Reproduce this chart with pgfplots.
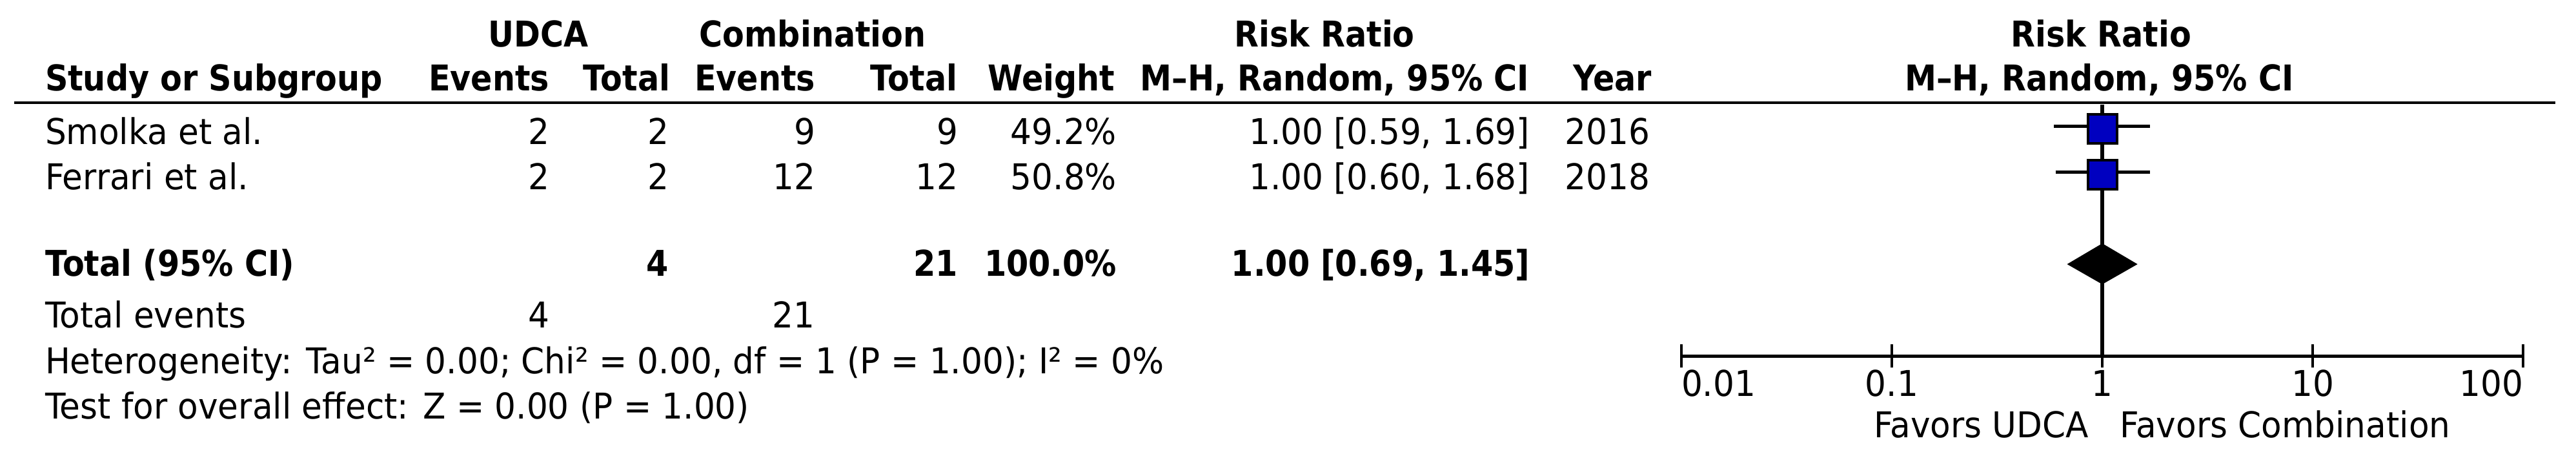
\documentclass[border=0pt]{standalone}
\usepackage{pgfplots}
\pgfplotsset{compat=1.18}
\usepackage{fontspec}
\setmainfont{DejaVu Sans}[FakeStretch=0.94, BoldFeatures={FakeStretch=0.895}]
\definecolor{sqblue}{RGB}{0,0,192}

% positions are given in pixels of the 3991 x 705 reference (1 px = 0.1pt)
\newcommand{\Lt}[3]{\node[anchor=base west,inner sep=0pt] at ({#1*0.1pt},{-#2*0.1pt}) {#3};}
\newcommand{\Rt}[3]{\node[anchor=base east,inner sep=0pt] at ({#1*0.1pt},{-#2*0.1pt}) {#3};}
\newcommand{\Ct}[3]{\node[anchor=base,inner sep=0pt] at ({#1*0.1pt},{-#2*0.1pt}) {#3};}

\begin{document}
\fontsize{5.5pt}{6.6pt}\selectfont
\begin{tikzpicture}
\path[use as bounding box] (0pt,0pt) rectangle (399.1pt,-70.5pt);

% header
\begin{scope}[font=\bfseries]
\Ct{834}{72}{UDCA}
\Ct{1259}{72}{Combination}
\Ct{2052}{72}{Risk Ratio}
\Ct{3255}{72}{Risk Ratio}
\Lt{68}{140}{Study or Subgroup}
\Rt{853}{140}{Events}
\Rt{1040}{140}{Total}
\Rt{1265}{140}{Events}
\Rt{1485}{140}{Total}
\Rt{1729}{140}{Weight}
\Rt{2371}{140}{M--H, Random, 95\% CI}
\Rt{2561}{140}{Year}
\Ct{3252}{140}{M--H, Random, 95\% CI}
\end{scope}
\draw[line width=0.45pt] (2.2pt,-15.9pt) -- (395.9pt,-15.9pt);

% studies
\Lt{68}{223}{Smolka et al.}
\Rt{853}{223}{2}
\Rt{1038}{223}{2}
\Rt{1265}{223}{9}
\Rt{1486}{223}{9}
\Rt{1732}{223}{49.2\%}
\Rt{2372}{223}{1.00 [0.59, 1.69]}
\Rt{2558}{223}{2016}

\Lt{68}{293}{Ferrari et al.}
\Rt{853}{293}{2}
\Rt{1038}{293}{2}
\Rt{1265}{293}{12}
\Rt{1486}{293}{12}
\Rt{1732}{293}{50.8\%}
\Rt{2372}{293}{1.00 [0.60, 1.68]}
\Rt{2558}{293}{2018}

% pooled
\begin{scope}[font=\bfseries]
\Lt{68}{427}{Total (95\% CI)}
\Rt{1038}{427}{4}
\Rt{1486}{427}{21}
\Rt{1732}{427}{100.0\%}
\Rt{2372}{427}{1.00 [0.69, 1.45]}
\end{scope}
\Lt{68}{507}{Total events}
\Rt{853}{507}{4}
\Rt{1264}{507}{21}
\Lt{68}{578}{Heterogeneity: Tau² = 0.00; Chi² = 0.00, df = 1 (P = 1.00); I² = 0\%}
\Lt{68}{648}{Test for overall effect: Z = 0.00 (P = 1.00)}

\begin{axis}[
    at={(260.5pt,-55.1pt)}, anchor=south west,
    scale only axis, width=130.4pt, height=38.9pt,
    xmode=log, xmin=0.01, xmax=100,
    ymin=-551, ymax=-162,
    axis x line*=bottom, axis y line=none,
    axis line style={line width=0.5pt},
    clip=false,
    xtick={0.01,0.1,1,10,100},
    xticklabels={\rlap{0.01},{0.1},{1},{10},\llap{100}},
    xminorticks=false,
    tick align=center, major tick length=3.6pt,
    tick style={line width=0.4pt, black},
    xticklabel style={anchor=base, inner sep=0pt, yshift=-4.4pt},
  ]
  % line of no effect
  \addplot[black, line width=0.55pt] coordinates {(1,-162) (1,-551)};
  % confidence intervals
  \addplot[black, line width=0.5pt] coordinates {(0.59,-195) (1.69,-195)};
  \addplot[black, line width=0.5pt] coordinates {(0.60,-266) (1.68,-266)};
  % point estimates, box size by weight
  \addplot[only marks, mark=square*, mark size=2.25pt,
    mark options={fill=sqblue, draw=none}] coordinates {(1,-199.5) (1,-270.5)};
  % pooled diamond
  \addplot[fill=black, draw=black, line width=0.2pt]
    coordinates {(0.69,-409) (1,-378) (1.45,-409) (1,-439)} -- cycle;
  \node[anchor=base east, inner sep=0pt, xshift=-1.9pt] at (axis cs:1,-677) {Favors UDCA};
  \node[anchor=base west, inner sep=0pt, xshift=2.5pt] at (axis cs:1,-677) {Favors Combination};
\end{axis}
\end{tikzpicture}
\end{document}
